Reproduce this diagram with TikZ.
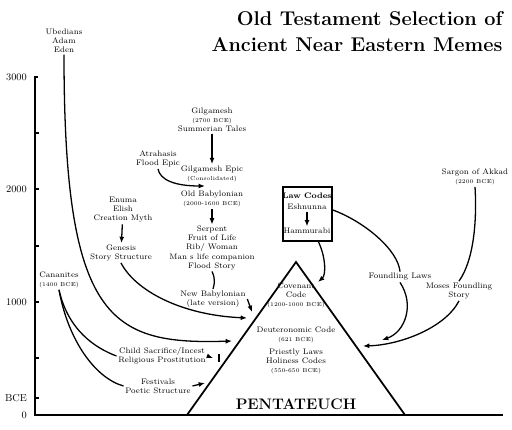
\documentclass[tikz,border=0pt]{standalone}
\usepackage{tikz}
\usetikzlibrary{arrows.meta}

\newcommand{\yrs}[1]{{\fontsize{4.8}{5.8}\selectfont(#1)}}

\begin{document}
\begin{tikzpicture}[x=0.03cm,y=-0.03cm,line width=1.1pt,>={Latex[length=1.9mm,width=1.5mm]},
  lbl/.style={font=\fontsize{6.8}{7.7}\selectfont,align=center,inner sep=1pt},
  axlbl/.style={font=\fontsize{8.6}{9}\selectfont,anchor=east,inner sep=0pt}]
  \useasboundingbox (0,0) rectangle (512,430);
  % title
  \node[font=\fontsize{17}{20}\selectfont\bfseries,anchor=east,inner sep=0pt] (tit1) at (503,19) {Old Testament Selection of};
  \node[font=\fontsize{17}{20}\selectfont\bfseries,anchor=east,inner sep=0pt] (tit2) at (503,45) {Ancient Near Eastern Memes};
  % axis
  \draw[line width=1.3pt] (38,77)--(35,77)--(35,415)--(503,415);
  \foreach \yy in {133,189,246,302,358,398} \draw[line width=1.2pt] (35,\yy)--(38.5,\yy);
  \node[axlbl] (a3) at (27.5,77) {3000};
  \node[axlbl] (a2) at (27.5,189) {2000};
  \node[axlbl] (a1) at (27.5,302) {1000};
  \node[axlbl] (ab) at (27.5,398) {BCE};
  \node[axlbl] (a0) at (27.5,415) {0};
  % pyramid
  \coordinate (pl) at (187,415); \coordinate (pt) at (296,262); \coordinate (pr) at (405,415);
  \draw[line width=1.5pt] (pl)--(pt)--(pr);
  \node[lbl] (cov) at (296,295) {Covenant\\Code\\\yrs{1200-1000 BCE}};
  \node[lbl] (deut) at (296,335) {Deuteronomic Code\\\yrs{621 BCE}};
  \node[lbl] (priest) at (296,361) {Priestly Laws\\Holiness Codes\\\yrs{550-650 BCE}};
  \node[font=\fontsize{13}{15}\selectfont,inner sep=0pt] (pent) at (296,404) {\textbf{PENTATEUCH}};
  % sources
  \node[lbl] (ub) at (64,41) {Ubedians\\Adam\\Eden};
  \node[lbl] (gil) at (212,120) {Gilgamesh\\\yrs{2700 BCE}\\Summerian Tales};
  \node[lbl] (atra) at (158,159) {Atrahasis\\Flood Epic};
  \node[lbl] (gilep) at (212,174) {Gilgamesh Epic\\\yrs{Consolidated}};
  \node[lbl] (oldbab) at (212,199) {Old Babylonian\\\yrs{2000-1600 BCE}};
  \node[lbl] (serp) at (212,248) {Serpent\\Fruit of Life\\Rib/ Woman\\Man s life companion\\Flood Story};
  \node[lbl] (newbab) at (213,299) {New Babylonian\\(late version)};
  \node[lbl] (enuma) at (123,210) {Enuma\\Elish\\Creation Myth};
  \node[lbl] (gen) at (121,253) {Genesis\\Story Structure};
  \node[lbl] (canan) at (59,280) {Cananites\\\yrs{1400 BCE}};
  \node[lbl] (child) at (162,356) {Child Sacrifice/Incest\\Religious Prostitution};
  \node[lbl] (fest) at (158,386) {Festivals\\Poetic Structure};
  \node[lbl] (sarg) at (475,177) {Sargon of Akkad\\\yrs{2200 BCE}};
  \node[lbl] (fdl) at (400,277) {Foundling Laws};
  \node[lbl] (moses) at (459,291) {Moses Foundling\\Story};
  % law codes box
  \node[draw,line width=1.5pt,minimum width=1.47cm,minimum height=1.62cm] (law) at (307.5,214) {};
  \node[lbl,font=\fontsize{6.8}{7.7}\selectfont\bfseries] (lawhd) at (307,196) {Law Codes};
  \node[lbl] (esh) at (307,207) {Eshnunna};
  \node[lbl] (ham) at (307,231) {Hammurabi};
  % arrow ends
  \coordinate (eAtra) at (205,186);
  \coordinate (eUb) at (232,341);
  \coordinate (eGen) at (247,318);
  \coordinate (eNew) at (252,312);
  \coordinate (eChild) at (213,358);
  \coordinate (blk) at (219,358);
  \coordinate (eFest) at (205,383);
  \coordinate (eLaw) at (318,282);
  \coordinate (eFdl) at (382,340);
  \coordinate (eMos) at (363,346);
  % straight arrows
  \draw[->] (gil)--(gilep);
  \draw[->] (oldbab)--(serp);
  \draw[->] (enuma)--(gen);
  \draw[->] (esh)--(ham);
  \draw[->] (newbab.east)--(eNew);
  \draw[->] (child.east)--(eChild);
  \draw[line width=1.3pt] ([yshift=-0.11cm]blk)--([yshift=0.11cm]blk);
  \draw[->] (fest.east)--(eFest);
  % curves
  \draw[->] (atra.south) .. controls (160,180) and (175,186) .. (eAtra);
  \draw (serp.south) .. controls (216,280) and (214,285) .. (newbab.north);
  \draw[->] (ub.south) .. controls (64,320) and (110,345) .. (eUb);
  \draw[->] (gen.south) .. controls (135,290) and (180,315) .. (eGen);
  \draw (canan.south) .. controls (68,330) and (95,348) .. (child.west);
  \draw (canan.south) .. controls (68,340) and (95,378) .. (fest.west);
  \draw[->] ([xshift=0.33cm]law.south) .. controls (326,258) and (326,275) .. (eLaw);
  \draw ([yshift=0.12cm]law.east) .. controls (365,222) and (398,250) .. (fdl.north);
  \draw[->] (fdl.south) .. controls (415,305) and (405,332) .. (eFdl);
  \draw (sarg.south) .. controls (477,220) and (474,260) .. (moses.north);
  \draw[->] (moses.south) .. controls (445,328) and (400,345) .. (eMos);
\end{tikzpicture}
\end{document}
